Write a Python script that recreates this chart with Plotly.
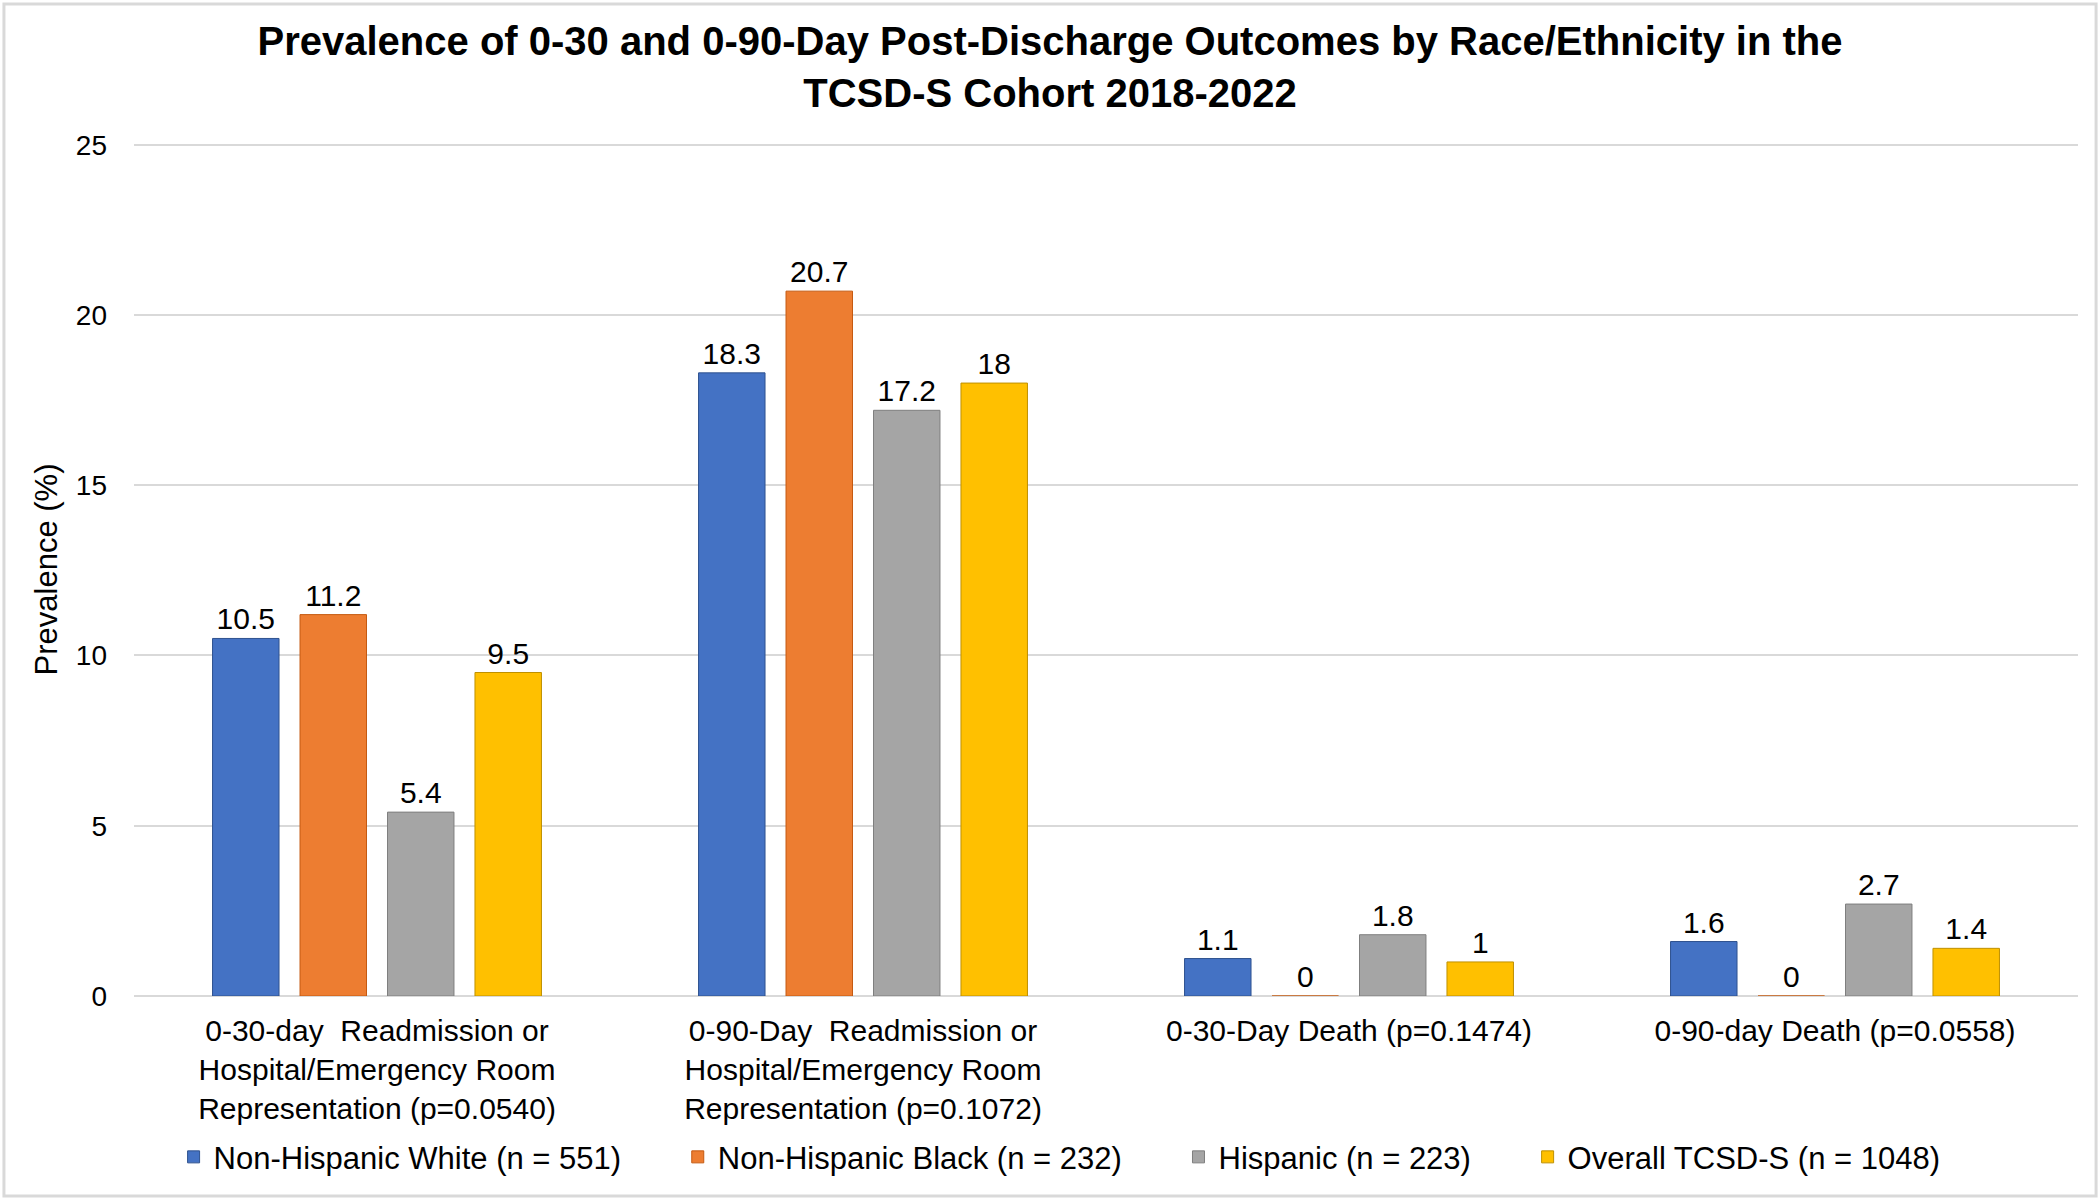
import plotly.graph_objects as go

categories = [
    "0-30-day  Readmission or<br>Hospital/Emergency Room<br>Representation (p=0.0540)",
    "0-90-Day  Readmission or<br>Hospital/Emergency Room<br>Representation (p=0.1072)",
    "0-30-Day Death (p=0.1474)",
    "0-90-day Death (p=0.0558)",
]
series_names = [
    "Non-Hispanic White (n = 551)",
    "Non-Hispanic Black (n = 232)",
    "Hispanic (n = 223)",
    "Overall TCSD-S (n = 1048)",
]
white = [10.5, 18.3, 1.1, 1.6]
black = [11.2, 20.7, 0, 0]
hispanic = [5.4, 17.2, 1.8, 2.7]
overall = [9.5, 18, 1, 1.4]

colors = ["#4472C4", "#ED7D31", "#A5A5A5", "#FFC000"]
outlines = ["#2F528F", "#C55A11", "#7F7F7F", "#BF9000"]

fig = go.Figure()
for name, vals, c, oc in zip(series_names, [white, black, hispanic, overall], colors, outlines):
    fig.add_trace(go.Bar(
        x=categories, y=vals, name=name + "\u00a0" * 6,
        marker=dict(color=c, line=dict(color=oc, width=1)),
        text=vals, texttemplate="%{y}", textposition="outside",
        textfont=dict(size=30, color="#000000"),
        cliponaxis=False,
    ))

# plot area in pixels: x 134..2078, y 143..996
fig.update_layout(
    width=2100, height=1200,
    paper_bgcolor="white", plot_bgcolor="white",
    font=dict(family="Liberation Sans, Arial", color="#000000"),
    title=dict(
        text="<b>Prevalence of 0-30 and 0-90-Day Post-Discharge Outcomes by Race/Ethnicity in the<br>TCSD-S Cohort 2018-2022</b>",
        x=0.5, xanchor="center", y=0.954, yanchor="middle",
        font=dict(size=40, color="#000000"),
    ),
    barmode="group", bargap=0.28, bargroupgap=0.24,
    margin=dict(l=134, r=22, t=143, b=204, autoexpand=False),
    legend=dict(
        orientation="h", x=0.4895, xanchor="center", y=-0.189, yanchor="middle",
        font=dict(size=31),
    ),
    xaxis=dict(tickfont=dict(size=30), showline=False, ticks="",
               ticklabelstandoff=14),
    yaxis=dict(
        range=[0, 25.05], tickvals=[0, 5, 10, 15, 20, 25], tickfont=dict(size=28),
        showgrid=True, gridcolor="#D9D9D9", gridwidth=1.5,
        zeroline=True, zerolinecolor="#D9D9D9", zerolinewidth=1.5,
        title=dict(text="Prevalence (%)", font=dict(size=31), standoff=8),
        ticks="", ticklabelstandoff=26,
    ),
    shapes=[dict(type="rect", xref="paper", yref="paper",
                 x0=-0.0669, x1=1.0093, y0=-0.2345, y1=1.163,
                 line=dict(color="#D9D9D9", width=3))],
)

fig.write_html("out.html", config={"displayModeBar": False},
               post_script="document.body.style.margin='0';")
